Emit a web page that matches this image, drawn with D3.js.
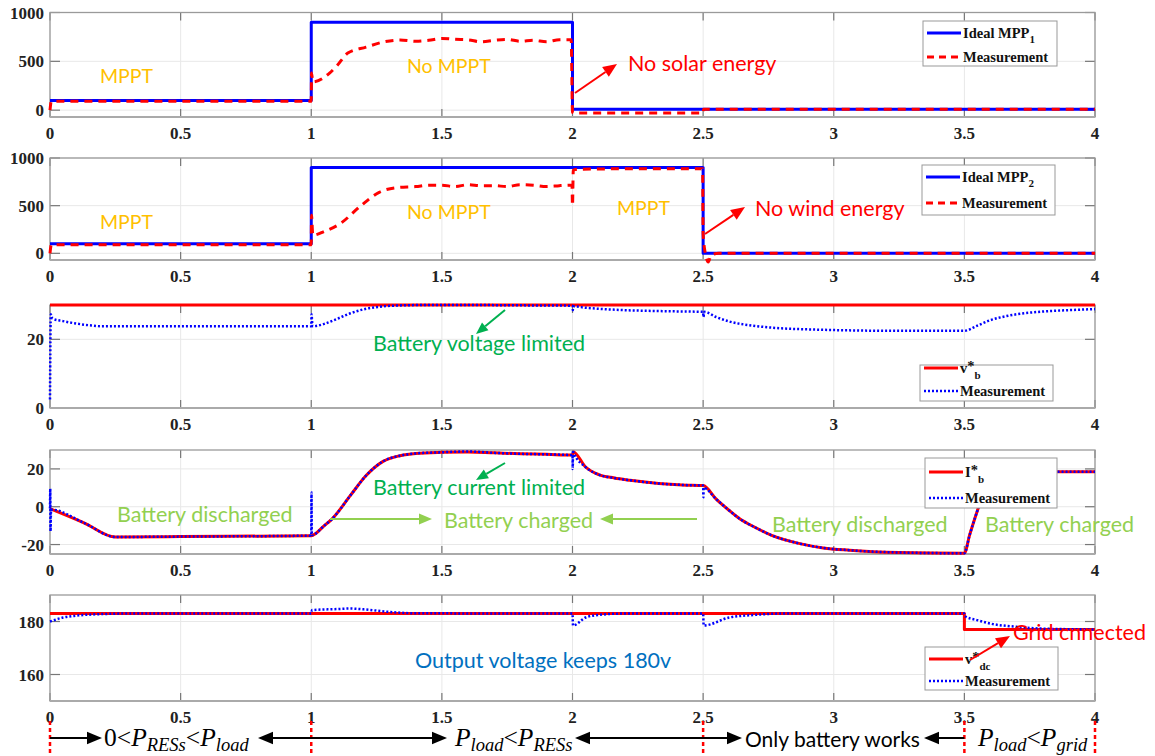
<!DOCTYPE html>
<html><head><meta charset="utf-8">
<script src="https://cdn.jsdelivr.net/npm/d3@7/dist/d3.min.js"></script>
<style>
html,body{margin:0;padding:0;background:#fff;}
svg{display:block;}
</style></head><body>
<svg id="c" width="1155" height="756"></svg>
<script>
// ---------- DATA ----------
const xTicks = [0, 0.5, 1, 1.5, 2, 2.5, 3, 3.5, 4];
const xTickLabels = ["0", "0.5", "1", "1.5", "2", "2.5", "3", "3.5", "4"];

// Panel 1: solar (PV1)
const idealT1 = [0, 1, 1, 2, 2, 4];
const ideal1  = [100, 100, 900, 900, 10, 10];
const measT1  = [0, 0.005, 1, 1.001, 1.006, 1.07, 1.1, 1.14, 1.21, 1.28, 1.34, 1.4, 1.45, 1.5, 1.55, 1.6, 1.65, 1.7, 1.75, 1.8, 1.85, 1.9, 1.95, 1.995, 2.0, 2.005, 2.5, 2.502, 4];
const meas1   = [0, 90, 90, 380, 290, 380, 460, 585, 646, 700, 718, 705, 715, 735, 725, 720, 700, 715, 725, 705, 715, 700, 720, 720, -20, -30, -30, 10, 10];
const yTicks1 = [0, 500, 1000];

// Panel 2: wind (PV2)
const idealT2 = [0, 1, 1, 2.5, 2.5, 4];
const ideal2  = [100, 100, 900, 900, 0, 0];
const measT2  = [0, 0.005, 1, 1.001, 1.006, 1.05, 1.11, 1.19, 1.26, 1.33, 1.4, 1.45, 1.5, 1.55, 1.6, 1.65, 1.7, 1.75, 1.8, 1.85, 1.9, 1.95, 1.998, 2.0, 2.003, 2.01, 2.1, 2.3, 2.498, 2.5, 2.51, 2.52, 2.53, 2.56, 4];
const meas2   = [0, 90, 90, 400, 190, 230, 310, 500, 640, 690, 700, 715, 715, 700, 720, 710, 710, 700, 720, 715, 700, 710, 715, 500, 870, 880, 885, 888, 888, 200, -20, -90, -20, 0, 0];
const yTicks2 = [0, 500, 1000];

// Panel 3: battery voltage
const refT3 = [0, 4];
const ref3  = [30, 30];
const measT3 = [0, 0.003, 0.01, 0.05, 0.1, 0.15, 0.2, 0.5, 1.0, 1.001, 1.005, 1.05, 1.1, 1.15, 1.21, 1.275, 1.35, 1.45, 1.6, 1.8, 2.0, 2.001, 2.005, 2.05, 2.1, 2.2, 2.35, 2.5, 2.501, 2.505, 2.55, 2.6, 2.7, 2.8, 2.9, 3.0, 3.2, 3.5, 3.55, 3.6, 3.65, 3.7, 3.8, 3.9, 4];
const meas3  = [2.5, 27.3, 26, 25.3, 24.6, 24.1, 23.8, 23.8, 23.8, 27.3, 23.8, 24.5, 26, 27.6, 28.9, 29.6, 29.9, 30, 30, 29.9, 29.8, 28.5, 29.6, 29.2, 28.9, 28.5, 28.2, 28, 26.5, 28, 26.5, 25.2, 23.9, 23.2, 22.9, 22.7, 22.5, 22.5, 24, 25.6, 26.6, 27.3, 28.1, 28.5, 28.8];
const yTicks3 = [0, 20];

// Panel 4: battery current
const refT4 = [0, 0.13, 0.25, 0.5, 1.0, 1.05, 1.08, 1.15, 1.21, 1.275, 1.34, 1.4, 1.5, 1.6, 1.7, 1.8, 1.9, 2.0, 2.003, 2.05, 2.1, 2.16, 2.22, 2.33, 2.42, 2.5, 2.55, 2.6, 2.64, 2.7, 2.76, 2.87, 2.96, 3.06, 3.25, 3.5, 3.52, 3.55, 3.58, 3.62, 3.66, 3.75, 4];
const ref4  = [-1, -8.5, -16, -15.8, -15.3, -10, -6.4, 6, 16.5, 24, 27, 28.2, 28.8, 29, 28.5, 28, 27.7, 27.3, 29, 21, 17, 15.2, 14, 12.3, 11.5, 11.2, 4, -2, -6.4, -11, -15, -19.5, -21.8, -23, -24.2, -24.6, -15, -2, 10, 16, 18, 18.5, 18.5];
const measT4 = [0, 0.001, 0.002, 0.004, 0.13, 0.25, 0.5, 1.0, 1.001, 1.002, 1.05, 1.08, 1.15, 1.21, 1.275, 1.34, 1.4, 1.5, 1.6, 1.7, 1.8, 1.9, 2.0, 2.001, 2.002, 2.003, 2.05, 2.1, 2.16, 2.22, 2.33, 2.42, 2.5, 2.501, 2.502, 2.55, 2.6, 2.64, 2.7, 2.76, 2.87, 2.96, 3.06, 3.25, 3.5, 3.52, 3.55, 3.58, 3.62, 3.66, 3.75, 4];
const meas4  = [-1, 9.5, -13, -1.5, -8.5, -16, -15.8, -15.3, 7.5, -15, -10, -6.4, 6, 16.5, 24, 27, 28.2, 28.8, 29.2, 28.5, 28, 27.7, 27.3, 20, 30, 29, 21, 17, 15.2, 14, 12.3, 11.5, 11.2, 5, 10, 4, -2, -6.4, -11, -15, -19.5, -21.8, -23, -24.2, -24.6, -15, -2, 10, 16, 18, 18.5, 18.5];
const yTicks4 = [-20, 0, 20];

// Panel 5: output DC voltage
const refT5 = [0, 3.5, 3.5, 4];
const ref5  = [183, 183, 177, 177];
const measT5 = [0, 0.05, 0.1, 0.2, 0.3, 1.0, 1.003, 1.1, 1.15, 1.2, 1.3, 1.4, 2.0, 2.002, 2.05, 2.1, 2.2, 2.5, 2.502, 2.6, 2.7, 2.8, 3.5, 3.502, 3.55, 3.6, 3.7, 3.8, 4];
const meas5  = [180, 181.5, 182.2, 182.8, 183, 183, 184.3, 184.7, 184.9, 184.6, 183.6, 183.1, 183, 178.5, 181.5, 182.5, 183, 183, 178.5, 181.5, 182.5, 183, 183, 182, 180.5, 179.2, 178, 177.3, 177];
const yTicks5 = [160, 180];

// ---------- LAYOUT ----------
const svg = d3.select("#c");
const x = d3.scaleLinear().domain([0, 4]).range([50, 1095]);
const RED = "#ff0000", BLUE = "#0000ff";
const serif = "'Liberation Serif','Times New Roman',serif";
const sans = "Lato,'Open Sans',sans-serif";
const LIN = d3.curveLinear, SMOOTH = d3.curveMonotoneX;

const panels = [
  {top: 12.5, bottom: 117, dom: [-70, 1000], ticks: yTicks1,
   series: [{t: idealT1, v: ideal1, color: BLUE, w: 3, dash: null, curve: LIN},
            {t: measT1, v: meas1, color: RED, w: 3, dash: "8,6", curve: SMOOTH}],
   legend: {x: 923, y: 21, w: 134, h: 45, r1: 38, r2: 62, label: "Ideal MPP", sub: "1", sup: null}},
  {top: 158, bottom: 260, dom: [-70, 1000], ticks: yTicks2,
   series: [{t: idealT2, v: ideal2, color: BLUE, w: 3, dash: null, curve: LIN},
            {t: measT2, v: meas2, color: RED, w: 3, dash: "8,6", curve: SMOOTH}],
   legend: {x: 922, y: 165, w: 133, h: 50, r1: 182, r2: 208, label: "Ideal MPP", sub: "2", sup: null}},
  {top: 305, bottom: 408, dom: [0, 30], ticks: yTicks3,
   series: [{t: refT3, v: ref3, color: RED, w: 3, dash: null, curve: LIN},
            {t: measT3, v: meas3, color: BLUE, w: 2.5, dash: "2,2", curve: SMOOTH}],
   legend: {x: 920, y: 365, w: 133, h: 36, r1: 373, r2: 396, label: "v", sub: "b", sup: "*"}},
  {top: 450, bottom: 554, dom: [-25, 30], ticks: yTicks4,
   series: [{t: refT4, v: ref4, color: RED, w: 3, dash: null, curve: SMOOTH},
            {t: measT4, v: meas4, color: BLUE, w: 2.5, dash: "2,2", curve: SMOOTH}],
   legend: {x: 925, y: 458, w: 132, h: 50, r1: 477, r2: 503, label: "I", sub: "b", sup: "*"}},
  {top: 595, bottom: 701, dom: [150, 190], ticks: yTicks5,
   series: [{t: refT5, v: ref5, color: RED, w: 3, dash: null, curve: LIN},
            {t: measT5, v: meas5, color: BLUE, w: 2.5, dash: "2,2", curve: SMOOTH}],
   legend: {x: 925, y: 647, w: 133, h: 43, r1: 664, r2: 686, label: "v", sub: "dc", sup: "*"}}
];

panels.forEach((p, i) => {
  const y = d3.scaleLinear().domain(p.dom).range([p.bottom, p.top]);
  const g = svg.append("g");
  const x0 = x.range()[0], x1 = x.range()[1];
  // grid
  g.selectAll(".gx").data(xTicks).join("line")
    .attr("x1", d => x(d)).attr("x2", d => x(d)).attr("y1", p.top).attr("y2", p.bottom)
    .attr("stroke", "#e8e8e8").attr("stroke-width", 1);
  g.selectAll(".gy").data(p.ticks).join("line")
    .attr("x1", x0).attr("x2", x1).attr("y1", d => y(d)).attr("y2", d => y(d))
    .attr("stroke", "#e8e8e8").attr("stroke-width", 1);
  // ticks (inward, both sides)
  xTicks.forEach(d => {
    g.append("line").attr("x1", x(d)).attr("x2", x(d)).attr("y1", p.bottom).attr("y2", p.bottom - 8).attr("stroke", "#777").attr("stroke-width", 1.2);
    g.append("line").attr("x1", x(d)).attr("x2", x(d)).attr("y1", p.top).attr("y2", p.top + 8).attr("stroke", "#777").attr("stroke-width", 1.2);
  });
  p.ticks.forEach(d => {
    g.append("line").attr("x1", x0).attr("x2", x0 + 10).attr("y1", y(d)).attr("y2", y(d)).attr("stroke", "#777").attr("stroke-width", 1.2);
    g.append("line").attr("x1", x1).attr("x2", x1 - 10).attr("y1", y(d)).attr("y2", y(d)).attr("stroke", "#777").attr("stroke-width", 1.2);
  });
  // box
  g.append("rect").attr("x", x0).attr("y", p.top).attr("width", x1 - x0).attr("height", p.bottom - p.top)
    .attr("fill", "none").attr("stroke", "#9a9a9a").attr("stroke-width", 1.3);
  g.append("line").attr("x1", x0).attr("x2", x1).attr("y1", p.bottom).attr("y2", p.bottom).attr("stroke", "#aaa").attr("stroke-width", 2);
  // tick labels
  g.selectAll(".yl").data(p.ticks).join("text")
    .attr("x", 44).attr("y", d => y(d) + 6).attr("text-anchor", "end")
    .attr("font-family", serif).attr("font-weight", "bold").attr("font-size", 17).attr("fill", "#222")
    .text(d => String(d));
  g.selectAll(".xl").data(xTicks).join("text")
    .attr("x", d => x(d)).attr("y", p.bottom + 22).attr("text-anchor", "middle")
    .attr("font-family", serif).attr("font-weight", "bold").attr("font-size", 17).attr("fill", "#222")
    .text((d, k) => xTickLabels[k]);
  // lines
  p.series.forEach(s => {
    const line = d3.line().x((d, k) => x(s.t[k])).y(d => y(d)).curve(s.curve);
    g.append("path").datum(s.v).attr("d", line).attr("fill", "none")
      .attr("stroke", s.color).attr("stroke-width", s.w)
      .attr("stroke-dasharray", s.dash).attr("stroke-linejoin", "round");
  });
  // legend
  const L = p.legend;
  const lg = g.append("g");
  lg.append("rect").attr("x", L.x).attr("y", L.y).attr("width", L.w).attr("height", L.h)
    .attr("fill", "#fff").attr("stroke", "#999").attr("stroke-width", 1);
  const s0 = p.series[0], s1 = p.series[1];
  [[s0, L.r1], [s1, L.r2]].forEach(([s, ry]) => {
    lg.append("line").attr("x1", L.x + 4).attr("x2", L.x + 38).attr("y1", ry - 5).attr("y2", ry - 5)
      .attr("stroke", s.color).attr("stroke-width", s.w).attr("stroke-dasharray", s.dash === "8,6" ? "7,5" : s.dash);
  });
  const t1 = lg.append("text").attr("x", L.x + 40).attr("y", L.r1)
    .attr("font-family", serif).attr("font-weight", "bold").attr("font-size", 14.5).attr("fill", "#111");
  t1.append("tspan").text(L.label);
  if (L.sup) t1.append("tspan").text(L.sup).attr("dy", -2);
  t1.append("tspan").text(L.sub).attr("font-size", 11).attr("dy", L.sup ? 8 : 5);
  lg.append("text").attr("x", L.x + 40).attr("y", L.r2)
    .attr("font-family", serif).attr("font-weight", "bold").attr("font-size", 14.5).attr("fill", "#111")
    .text("Measurement");
});

// ---------- ANNOTATIONS ----------
function arrow(x1, y1, x2, y2, color, w, head) {
  const g = svg.append("g");
  const a = Math.atan2(y2 - y1, x2 - x1);
  const hl = head || 13, hw = hl * 0.42;
  const bx = x2 - hl * Math.cos(a), by = y2 - hl * Math.sin(a);
  g.append("line").attr("x1", x1).attr("y1", y1).attr("x2", bx).attr("y2", by)
    .attr("stroke", color).attr("stroke-width", w);
  g.append("polygon").attr("points", [
    [x2, y2],
    [bx + hw * Math.sin(a), by - hw * Math.cos(a)],
    [bx - hw * Math.sin(a), by + hw * Math.cos(a)]
  ].map(p => p.join(",")).join(" ")).attr("fill", color);
}
function label(tx, ty, str, color, size) {
  svg.append("text").attr("x", tx).attr("y", ty).attr("font-family", sans)
    .attr("font-size", size || 21.5).attr("fill", color).text(str);
}
const ORANGE = "#ffc000", GREEN = "#00b050", LGREEN = "#92d050", DBLUE = "#0070c0";
label(100, 83, "MPPT", ORANGE, 19.5);
label(407, 73, "No MPPT", ORANGE, 19.5);
label(628, 71, "No solar energy", RED);
arrow(575, 93, 617, 64, RED, 2, 14);

label(100, 229, "MPPT", ORANGE, 19.5);
label(407, 219, "No MPPT", ORANGE, 19.5);
label(617, 215, "MPPT", ORANGE, 19.5);
label(755, 216, "No wind energy", RED);
arrow(705, 234, 745, 207, RED, 2, 14);

label(373, 351, "Battery voltage limited", GREEN);
arrow(505, 310, 476, 334, GREEN, 2, 12);

label(373, 495, "Battery current limited", GREEN);
arrow(505, 463, 476, 480, GREEN, 2, 12);
label(117, 522, "Battery discharged", LGREEN);
arrow(330, 519, 432, 519, LGREEN, 2, 13);
label(444, 528, "Battery charged", LGREEN);
arrow(697, 519, 600, 519, LGREEN, 2, 13);
label(772, 532, "Battery discharged", LGREEN);
label(985, 532, "Battery charged", LGREEN);

label(1013, 640, "Grid cnnected", RED);
arrow(970, 660, 1010, 636, RED, 2, 14);
label(415, 668, "Output voltage keeps 180v", DBLUE);

// bottom operating-mode bar
const modeMarks = [0, 1, 2.5, 3.5, 4];
svg.selectAll(".mm").data(modeMarks).join("line")
  .attr("x1", d => x(d)).attr("x2", d => x(d)).attr("y1", 721).attr("y2", 754)
  .attr("stroke", RED).attr("stroke-width", 2.5).attr("stroke-dasharray", "4,3");
const AY = 738;
arrow(x(0), AY, 102, AY, "#000", 2, 15);
arrow(350, AY, 258, AY, "#000", 2, 15);
arrow(350, AY, 447, AY, "#000", 2, 15);
arrow(650, AY, 575, AY, "#000", 2, 15);
arrow(650, AY, 742, AY, "#000", 2, 15);
arrow(x(3.5), AY, 924, AY, "#000", 2, 15);

function mathText(tx, ty, parts) {
  const t = svg.append("text").attr("x", tx).attr("y", ty).attr("font-family", serif).attr("font-size", 25.5).attr("fill", "#000");
  let sub = false;
  parts.forEach(pt => {
    const s = t.append("tspan").text(pt.s);
    if (pt.it) s.attr("font-style", "italic");
    if (pt.sub && !sub) { s.attr("dy", 5).attr("font-size", 18.5); sub = true; }
    else if (pt.sub) { s.attr("font-size", 18.5); }
    else if (!pt.sub && sub) { s.attr("dy", -5); sub = false; }
  });
}
mathText(104, 746, [{s: "0<"}, {s: "P", it: true}, {s: "RESs", it: true, sub: true}, {s: "<"}, {s: "P", it: true}, {s: "load", it: true, sub: true}]);
mathText(455, 746, [{s: "P", it: true}, {s: "load", it: true, sub: true}, {s: "<"}, {s: "P", it: true}, {s: "RESs", it: true, sub: true}]);
svg.append("text").attr("x", 745).attr("y", 747).attr("font-family", sans).attr("font-size", 21).attr("fill", "#000").text("Only battery works");
mathText(978, 746, [{s: "P", it: true}, {s: "load", it: true, sub: true}, {s: "<"}, {s: "P", it: true}, {s: "grid", it: true, sub: true}]);
</script>
</body></html>
